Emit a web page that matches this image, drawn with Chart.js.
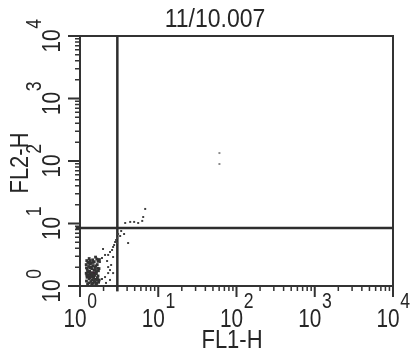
<!DOCTYPE html>
<html>
<head>
<meta charset="utf-8">
<script src="https://cdn.jsdelivr.net/npm/chart.js@4.4.1/dist/chart.umd.min.js"></script>
<style>
  html, body { margin: 0; padding: 0; background: #fff; }
  canvas { display: block; }
</style>
</head>
<body>
<canvas id="dotplot" width="410" height="357"></canvas>
<script>
const plotTitle = '11/10.007';
const xTitle = 'FL1-H';
const yTitle = 'FL2-H';
const decades = [0, 1, 2, 3, 4];
const minorSteps = [2, 3, 4, 5, 6, 7, 8, 9];

// quadrant gate
const gateX = 3;
const gateY = 8.5;

// main population near the origin
const clusterEvents = [
  [1.22, 2.55], [1.31, 2.75], [1.45, 2.62], [1.58, 2.90], [1.70, 2.48], [1.38, 2.35], [1.64, 2.70],
  [1.26, 2.40], [1.52, 2.45], [1.77, 2.65], [1.20, 2.20], [1.29, 2.05], [1.36, 2.28], [1.47, 2.12],
  [1.55, 1.98], [1.66, 2.20], [1.75, 1.90], [1.24, 1.85], [1.33, 1.72], [1.42, 1.90], [1.51, 1.78],
  [1.61, 1.70], [1.72, 1.75], [1.21, 1.95], [1.39, 2.02], [1.59, 2.10], [1.30, 2.30], [1.20, 1.60],
  [1.28, 1.52], [1.35, 1.62], [1.44, 1.55], [1.53, 1.48], [1.62, 1.58], [1.70, 1.45], [1.23, 1.38],
  [1.31, 1.30], [1.40, 1.42], [1.49, 1.34], [1.58, 1.28], [1.67, 1.36], [1.76, 1.25], [1.21, 1.20],
  [1.30, 1.12], [1.38, 1.18], [1.47, 1.10], [1.56, 1.16], [1.64, 1.10], [1.27, 1.44], [1.73, 1.15],
  [1.43, 1.25], [1.52, 1.22], [1.25, 1.08], [1.41, 1.07], [1.60, 1.06], [1.35, 1.95], [1.47, 2.38],
  [1.68, 1.92], [1.25, 1.70], [1.57, 1.82], [1.36, 1.40], [1.66, 1.24], [1.22, 1.50], [1.34, 2.55]
];

// densest part of the population
const coreEvents = [
  [1.38, 1.55], [1.46, 1.62], [1.52, 1.50], [1.42, 1.47], [1.58, 1.58], [1.35, 1.60], [1.49, 1.40], [1.33, 1.36]
];

// scattered events along the diagonal and above the gate
const spreadEvents = [
  [3.78, 10.2], [4.38, 10.6], [4.92, 10.6], [5.54, 10.2], [6.24, 11.0], [6.42, 12.7], [6.81, 17.1],
  [3.07, 6.79], [3.26, 6.31], [2.98, 5.86], [2.89, 5.45], [2.81, 5.06], [2.98, 4.87], [2.73, 4.53],
  [2.65, 4.21], [2.57, 3.77], [2.42, 3.50], [2.29, 3.14], [4.12, 4.87], [3.66, 6.79], [3.36, 7.59],
  [1.80, 2.42], [1.91, 2.81], [1.97, 3.91], [2.09, 3.14], [2.22, 2.51], [2.29, 2.01], [2.42, 1.80],
  [2.29, 1.61], [2.50, 2.17], [2.42, 1.25], [2.09, 1.39], [1.91, 1.29], [2.65, 1.61], [2.15, 1.12],
  [2.65, 2.91]
];

const farEvents = [[60.5, 134], [60.5, 89.5]];

const ink = '#262626';
const squeeze = 0.8;
const toPoints = list => list.map(([x, y]) => ({ x, y }));

// "10" with a raised exponent, centred on the origin of the current transform
function drawPower(ctx, exp) {
  ctx.font = '26px "Liberation Sans", Arial, sans-serif';
  const w10 = ctx.measureText('10').width * squeeze;
  ctx.font = '22px "Liberation Sans", Arial, sans-serif';
  const wExp = ctx.measureText(String(exp)).width * squeeze;
  const left = -(w10 + wExp) / 2;

  ctx.save();
  ctx.translate(left, 0);
  ctx.scale(squeeze, 1);
  ctx.font = '26px "Liberation Sans", Arial, sans-serif';
  ctx.fillText('10', 0, 0);
  ctx.restore();

  ctx.save();
  ctx.translate(left + w10 + 0.5, -19);
  ctx.scale(squeeze, 1);
  ctx.font = '22px "Liberation Sans", Arial, sans-serif';
  ctx.fillText(String(exp), 0, 0);
  ctx.restore();
}

function drawText(ctx, text, size, sx) {
  ctx.save();
  ctx.scale(sx, 1);
  ctx.font = size + 'px "Liberation Sans", Arial, sans-serif';
  ctx.textAlign = 'center';
  ctx.fillText(text, 0, 0);
  ctx.restore();
}

const cytoFrame = {
  id: 'cytoFrame',
  beforeDatasetsDraw(chart) {
    const { ctx, chartArea: a } = chart;
    ctx.save();
    ctx.strokeStyle = '#333';
    ctx.lineWidth = 2;
    ctx.strokeRect(a.left, a.top, a.right - a.left, a.bottom - a.top);
    ctx.restore();
  },
  afterDraw(chart) {
    const { ctx, chartArea: a, scales: { x, y } } = chart;
    ctx.save();
    ctx.strokeStyle = '#333';

    // log ticks outside the frame
    decades.forEach(d => {
      const steps = d < 4 ? [1, ...minorSteps] : [1];
      steps.forEach(m => {
        const v = m * Math.pow(10, d);
        const major = m === 1;
        ctx.lineWidth = major ? 2 : 1.5;
        const px = x.getPixelForValue(v);
        const py = y.getPixelForValue(v);
        ctx.beginPath();
        ctx.moveTo(px, a.bottom + 1);
        ctx.lineTo(px, a.bottom + (major ? 11 : 5));
        ctx.moveTo(a.left - 1, py);
        ctx.lineTo(a.left - (major ? 12 : 5), py);
        ctx.stroke();
      });
    });

    ctx.fillStyle = ink;
    ctx.textAlign = 'left';
    ctx.textBaseline = 'alphabetic';
    decades.forEach(d => {
      const v = Math.pow(10, d);
      ctx.save();
      ctx.translate(x.getPixelForValue(v), a.bottom + 41);
      drawPower(ctx, d);
      ctx.restore();

      ctx.save();
      ctx.translate(a.left - 20, y.getPixelForValue(v));
      ctx.rotate(-Math.PI / 2);
      drawPower(ctx, d);
      ctx.restore();
    });

    ctx.save();
    ctx.translate(215, 27);
    drawText(ctx, plotTitle, 25, 0.92);
    ctx.restore();

    ctx.save();
    ctx.translate(232, 348);
    drawText(ctx, xTitle, 25, 0.88);
    ctx.restore();

    ctx.save();
    ctx.translate(28, 163);
    ctx.rotate(-Math.PI / 2);
    drawText(ctx, yTitle, 25, 0.88);
    ctx.restore();

    ctx.restore();
  }
};

const dots = (data, color, radius) => ({
  type: 'scatter',
  data: toPoints(data),
  pointStyle: 'rect',
  pointRadius: radius,
  pointBorderWidth: 0,
  pointBackgroundColor: color,
  borderColor: color
});

const gateLine = data => ({
  type: 'line',
  data: toPoints(data),
  borderColor: '#2e2e2e',
  borderWidth: 2.5,
  pointRadius: 0,
  clip: false
});

new Chart(document.getElementById('dotplot'), {
  type: 'scatter',
  data: {
    datasets: [
      dots(clusterEvents, '#333333', 2),
      dots(coreEvents, '#3b2333', 2.2),
      dots(spreadEvents, '#404040', 1.4),
      dots(farEvents, '#8a8a8a', 1.4),
      gateLine([[gateX, 0.82], [gateX, 10000]]),
      gateLine([[0.88, gateY], [10000, gateY]])
    ]
  },
  options: {
    responsive: false,
    animation: false,
    devicePixelRatio: 1,
    layout: { padding: { left: 80, top: 36, right: 17, bottom: 71 } },
    plugins: { legend: { display: false }, tooltip: { enabled: false } },
    scales: {
      x: { type: 'logarithmic', min: 1, max: 10000, display: false },
      y: { type: 'logarithmic', min: 1, max: 10000, display: false }
    }
  },
  plugins: [cytoFrame]
});
</script>
</body>
</html>
